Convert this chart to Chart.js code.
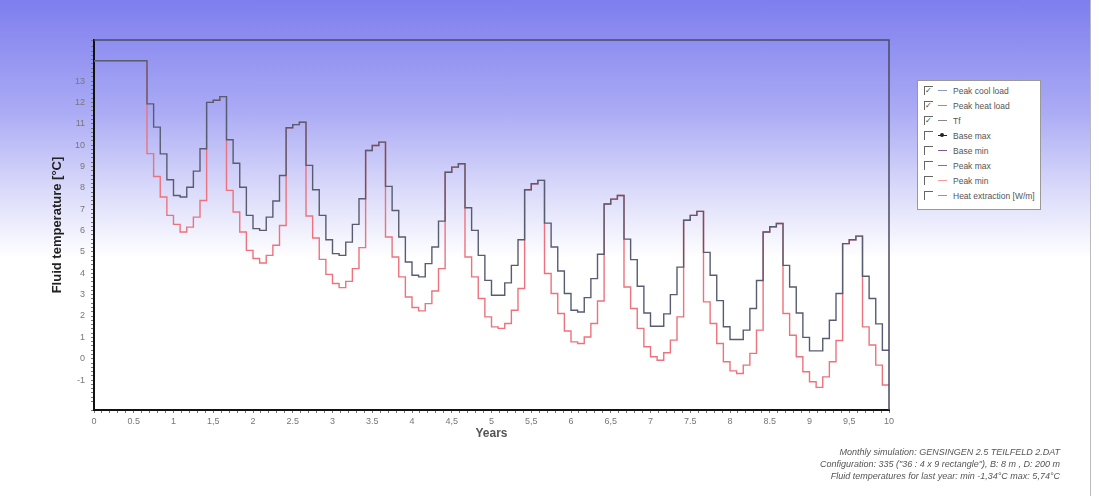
<!DOCTYPE html>
<html>
<head>
<meta charset="utf-8">
<script src="https://cdn.jsdelivr.net/npm/chart.js@4"></script>
<style>
  html, body { margin: 0; padding: 0; background: #fff; }
  #page {
    position: relative; width: 1090px; height: 496px;
    border-right: 1px solid #bbb;
    background: linear-gradient(to bottom, rgb(126,126,238) 0px, rgb(170,170,245) 110px, rgb(215,215,250) 185px, rgb(255,255,255) 258px);
    font-family: "Liberation Sans", Arial, sans-serif;
  }
  canvas { position: absolute; left: 0; top: 0; }
  #legend {
    position: absolute; left: 917px; top: 80px; width: 124px; height: 130px;
    background: #fff; border: 1px solid #999; box-sizing: border-box;
    font-size: 8.5px; color: #555; padding-top: 2px;
  }
  .row { height: 15px; display: flex; align-items: center; }
  .box { width: 8px; height: 8px; border-left: 1px solid #666; border-top: 1px solid #666;
         margin-left: 6px; margin-right: 5px; position: relative; font-size: 8px; line-height: 8px; color: #444; }
  .sw { width: 9px; height: 1px; margin-right: 6px; position: relative; }
  .dot { position: absolute; left: 2px; top: -2px; width: 4px; height: 4px; border-radius: 2px; background: #222; }
  #note {
    position: absolute; right: 30px; top: 446px; text-align: right;
    font-size: 9px; font-style: italic; color: #555; line-height: 12px;
  }
</style>
</head>
<body>
<div id="page">
  <canvas id="chart" width="1099" height="496"></canvas>
  <div id="legend"></div>
  <div id="note">
    Monthly simulation: GENSINGEN 2.5 TEILFELD 2.DAT<br>
    Configuration: 335 ("36 : 4 x 9 rectangle"), B: 8 m , D: 200 m<br>
    Fluid temperatures for last year: min -1,34°C max: 5,74°C
  </div>
</div>
<script>
// monthly values, one row per year (12 months)
const peakCoolLoad = [
  13.95, 13.95, 13.95, 13.95, 13.95, 13.95, 13.95, 13.95, 11.93, 10.84, 9.59, 8.38,
  7.64, 7.57, 8.03, 8.78, 9.83, 12.0, 12.1, 12.27, 10.25, 9.15, 8.03, 6.71,
  6.09, 6.01, 6.63, 7.38, 8.58, 10.81, 10.96, 11.07, 9.05, 7.91, 6.71, 5.57,
  4.92, 4.84, 5.46, 6.29, 7.49, 9.75, 9.98, 10.14, 8.07, 6.94, 5.70, 4.53,
  3.91, 3.83, 4.45, 5.23, 6.44, 8.73, 8.97, 9.13, 7.07, 6.01, 4.84, 3.67,
  2.97, 2.97, 3.55, 4.37, 5.57, 7.91, 8.19, 8.35, 6.35, 5.23, 4.11, 3.05,
  2.27, 2.19, 2.86, 3.75, 4.89, 7.24, 7.47, 7.64, 5.60, 4.64, 3.39, 2.14,
  1.52, 1.52, 2.10, 3.00, 4.29, 6.48, 6.71, 6.90, 4.98, 3.91, 2.72, 1.50,
  0.90, 0.90, 1.34, 2.35, 3.66, 5.93, 6.18, 6.33, 4.37, 3.36, 2.14, 1.00,
  0.37, 0.37, 0.95, 1.80, 3.05, 5.39, 5.57, 5.74, 3.86, 2.82, 1.63, 0.40
];
const peakHeatLoad = [
  13.95, 13.95, 13.95, 13.95, 13.95, 13.95, 13.95, 13.95, 9.60, 8.53, 7.57, 6.71,
  6.29, 5.93, 6.16, 6.63, 7.41, 12.0, 12.1, 12.27, 7.88, 6.87, 5.93, 5.07,
  4.69, 4.48, 4.84, 5.31, 6.24, 10.81, 10.96, 11.07, 6.68, 5.65, 4.65, 3.95,
  3.52, 3.33, 3.62, 4.22, 5.20, 9.75, 9.98, 10.14, 5.70, 4.76, 3.83, 2.89,
  2.40, 2.24, 2.58, 3.17, 4.22, 8.73, 8.97, 9.13, 4.76, 3.83, 2.82, 1.96,
  1.49, 1.42, 1.65, 2.27, 3.29, 7.91, 8.19, 8.35, 3.99, 3.05, 2.12, 1.30,
  0.79, 0.71, 1.02, 1.65, 2.70, 7.24, 7.47, 7.64, 3.36, 2.35, 1.42, 0.56,
  0.09, -0.07, 0.28, 0.87, 1.96, 6.48, 6.71, 6.90, 2.66, 1.65, 0.71, -0.14,
  -0.57, -0.69, -0.30, 0.25, 1.34, 5.93, 6.18, 6.33, 2.12, 1.10, 0.09, -0.61,
  -1.08, -1.34, -0.85, -0.14, 0.85, 5.39, 5.57, 5.74, 1.49, 0.64, -0.30, -1.23
];
const xTickLabels = ["0", "0.5", "1", "1,5", "2", "2.5", "3", "3.5", "4", "4,5", "5",
  "5,5", "6", "6,5", "7", "7.5", "8", "8.5", "9", "9,5", "10"];
const yTickLabels = ["-1", "0", "1", "2", "3", "4", "5", "6", "7", "8", "9", "10", "11", "12", "13"];

const legendItems = [
  { label: "Peak cool load", color: "#8a9ab8", on: true },
  { label: "Peak heat load", color: "#e0707a", on: true },
  { label: "Tf", color: "#888", on: true },
  { label: "Base max", color: "#222", on: false, dot: true },
  { label: "Base min", color: "#7a5a9a", on: false },
  { label: "Peak max", color: "#5a7ad8", on: false },
  { label: "Peak min", color: "#f09aa0", on: false },
  { label: "Heat extraction [W/m]", color: "#8aa08a", on: false }
];
const leg = document.getElementById("legend");
legendItems.forEach((it) => {
  const r = document.createElement("div");
  r.className = "row";
  r.innerHTML = '<span class="box">' + (it.on ? "&#10003;" : "") + '</span>' +
    '<span class="sw" style="background:' + it.color + '">' + (it.dot ? '<span class="dot"></span>' : '') + '</span>' +
    '<span>' + it.label + '</span>';
  leg.appendChild(r);
});

// each month value is held from the start of its month to the next one
function toSteps(arr) {
  const pts = arr.map((v, i) => ({ x: i / 12, y: v }));
  pts.push({ x: arr.length / 12, y: arr[arr.length - 1] });
  return pts;
}

const framePlugin = {
  id: "frame",
  afterDraw(chart) {
    const { ctx, chartArea: a } = chart;
    ctx.save();
    ctx.strokeStyle = "#4a4a66";
    ctx.lineWidth = 1.5;
    ctx.beginPath();
    ctx.moveTo(a.left, a.top);
    ctx.lineTo(a.right, a.top);
    ctx.lineTo(a.right, a.bottom);
    ctx.stroke();
    ctx.restore();
  }
};

new Chart(document.getElementById("chart"), {
  type: "line",
  data: {
    datasets: [
      {
        label: "Peak cool load",
        data: toSteps(peakCoolLoad),
        stepped: "before",
        borderColor: "#585c70",
        borderWidth: 1.4,
        pointRadius: 0,
        fill: false
      },
      {
        label: "Peak heat load",
        data: toSteps(peakHeatLoad),
        stepped: "before",
        borderColor: "rgb(236,115,125)",
        borderWidth: 1.4,
        pointRadius: 0,
        fill: false
      }
    ]
  },
  options: {
    responsive: false,
    animation: false,
    devicePixelRatio: 1,
    layout: { padding: { left: 0, right: 210, top: 40, bottom: 0 } },
    plugins: { legend: { display: false }, tooltip: { enabled: false } },
    scales: {
      x: {
        type: "linear",
        min: 0,
        max: 10,
        afterFit: (s) => { s.height = 86; },
        border: { color: "#111", width: 2 },
        grid: { drawOnChartArea: false, tickLength: 3, color: "#777" },
        ticks: {
          stepSize: 0.1,
          autoSkip: false,
          maxRotation: 0,
          padding: 3,
          color: "#777",
          font: { family: "Liberation Sans", size: 9 },
          callback: (v) => {
            const k = Math.round(v * 10);
            return k % 5 === 0 ? xTickLabels[k / 5] : "";
          }
        },
        title: {
          display: true,
          text: "Years",
          color: "#555",
          font: { family: "Liberation Sans", size: 12, weight: "bold" },
          padding: { top: 0, bottom: 55 }
        }
      },
      y: {
        min: -2.4,
        max: 14.92,
        afterFit: (s) => { s.width = 94; },
        border: { color: "#111", width: 2 },
        grid: { drawOnChartArea: false, tickLength: 3, color: "#777" },
        ticks: {
          stepSize: 0.2,
          autoSkip: false,
          padding: 6,
          color: "#777",
          font: { family: "Liberation Sans", size: 9 },
          callback: (v) => {
            const r = Math.round(v * 10) / 10;
            if (!Number.isInteger(r)) return "";
            const i = r + 1;
            return i >= 0 && i < yTickLabels.length ? yTickLabels[i] : "";
          }
        },
        title: {
          display: true,
          text: "Fluid temperature [°C]",
          color: "#222",
          font: { family: "Liberation Sans", size: 13, weight: "bold" },
          padding: { top: 50, bottom: 0 }
        }
      }
    }
  },
  plugins: [framePlugin]
});
</script>
</body>
</html>
